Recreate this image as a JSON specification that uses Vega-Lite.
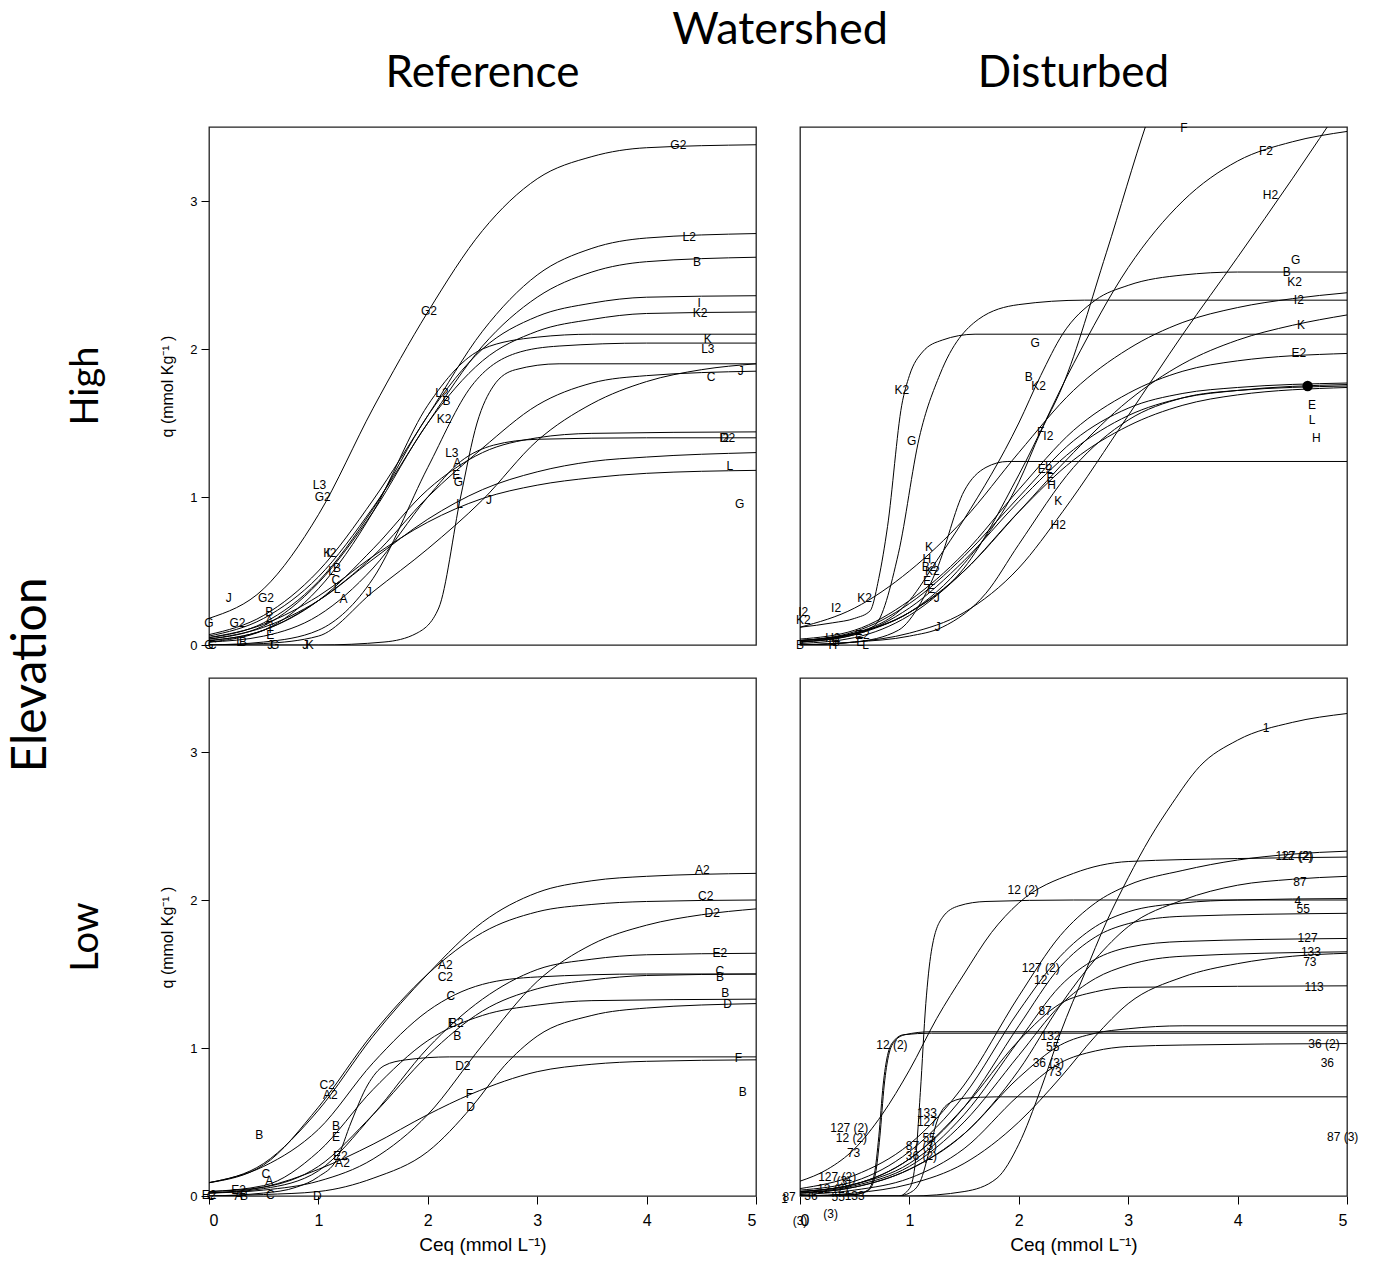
{
"$schema": "https://vega.github.io/schema/vega-lite/v6.json",
"padding": {"left": 7, "top": 8, "right": 5, "bottom": 5},
"background": "white",
"bounds": "flush",
"data": {"values": [
{"r":"H","w":"R","c":"G2","x":0,"y":0.18},{"r":"H","w":"R","c":"G2","x":0.5,"y":0.38},{"r":"H","w":"R","c":"G2","x":1,"y":0.88},{"r":"H","w":"R","c":"G2","x":1.5,"y":1.6},{"r":"H","w":"R","c":"G2","x":2,"y":2.25},{"r":"H","w":"R","c":"G2","x":2.5,"y":2.8},{"r":"H","w":"R","c":"G2","x":3,"y":3.15},{"r":"H","w":"R","c":"G2","x":3.5,"y":3.3},{"r":"H","w":"R","c":"G2","x":4,"y":3.36},{"r":"H","w":"R","c":"G2","x":5,"y":3.38},
{"r":"H","w":"R","c":"L2","x":0,"y":0.07},{"r":"H","w":"R","c":"L2","x":0.5,"y":0.2},{"r":"H","w":"R","c":"L2","x":1,"y":0.5},{"r":"H","w":"R","c":"L2","x":1.5,"y":0.98},{"r":"H","w":"R","c":"L2","x":2,"y":1.55},{"r":"H","w":"R","c":"L2","x":2.5,"y":2.12},{"r":"H","w":"R","c":"L2","x":3,"y":2.5},{"r":"H","w":"R","c":"L2","x":3.5,"y":2.68},{"r":"H","w":"R","c":"L2","x":4,"y":2.75},{"r":"H","w":"R","c":"L2","x":5,"y":2.78},
{"r":"H","w":"R","c":"B","x":0,"y":0.06},{"r":"H","w":"R","c":"B","x":0.5,"y":0.18},{"r":"H","w":"R","c":"B","x":1,"y":0.46},{"r":"H","w":"R","c":"B","x":1.5,"y":0.93},{"r":"H","w":"R","c":"B","x":2,"y":1.5},{"r":"H","w":"R","c":"B","x":2.5,"y":2.02},{"r":"H","w":"R","c":"B","x":3,"y":2.35},{"r":"H","w":"R","c":"B","x":3.5,"y":2.52},{"r":"H","w":"R","c":"B","x":4,"y":2.59},{"r":"H","w":"R","c":"B","x":5,"y":2.62},
{"r":"H","w":"R","c":"I","x":0,"y":0.05},{"r":"H","w":"R","c":"I","x":0.5,"y":0.15},{"r":"H","w":"R","c":"I","x":1,"y":0.43},{"r":"H","w":"R","c":"I","x":1.5,"y":0.92},{"r":"H","w":"R","c":"I","x":2,"y":1.55},{"r":"H","w":"R","c":"I","x":2.5,"y":2.0},{"r":"H","w":"R","c":"I","x":3,"y":2.22},{"r":"H","w":"R","c":"I","x":3.5,"y":2.31},{"r":"H","w":"R","c":"I","x":4,"y":2.35},{"r":"H","w":"R","c":"I","x":5,"y":2.36},
{"r":"H","w":"R","c":"K2","x":0,"y":0.04},{"r":"H","w":"R","c":"K2","x":0.5,"y":0.13},{"r":"H","w":"R","c":"K2","x":1,"y":0.42},{"r":"H","w":"R","c":"K2","x":1.5,"y":0.9},{"r":"H","w":"R","c":"K2","x":2,"y":1.5},{"r":"H","w":"R","c":"K2","x":2.5,"y":1.92},{"r":"H","w":"R","c":"K2","x":3,"y":2.12},{"r":"H","w":"R","c":"K2","x":3.5,"y":2.2},{"r":"H","w":"R","c":"K2","x":4,"y":2.24},{"r":"H","w":"R","c":"K2","x":5,"y":2.25},
{"r":"H","w":"R","c":"K","x":0,"y":0.02},{"r":"H","w":"R","c":"K","x":0.5,"y":0.1},{"r":"H","w":"R","c":"K","x":1,"y":0.38},{"r":"H","w":"R","c":"K","x":1.5,"y":0.9},{"r":"H","w":"R","c":"K","x":2,"y":1.62},{"r":"H","w":"R","c":"K","x":2.5,"y":2.0},{"r":"H","w":"R","c":"K","x":3,"y":2.08},{"r":"H","w":"R","c":"K","x":3.5,"y":2.1},{"r":"H","w":"R","c":"K","x":5,"y":2.1},
{"r":"H","w":"R","c":"L3","x":0,"y":0},{"r":"H","w":"R","c":"L3","x":0.5,"y":0.02},{"r":"H","w":"R","c":"L3","x":1,"y":0.1},{"r":"H","w":"R","c":"L3","x":1.5,"y":0.45},{"r":"H","w":"R","c":"L3","x":2,"y":1.2},{"r":"H","w":"R","c":"L3","x":2.4,"y":1.75},{"r":"H","w":"R","c":"L3","x":2.8,"y":1.97},{"r":"H","w":"R","c":"L3","x":3.2,"y":2.02},{"r":"H","w":"R","c":"L3","x":4,"y":2.04},{"r":"H","w":"R","c":"L3","x":5,"y":2.04},
{"r":"H","w":"R","c":"S1","x":0,"y":0},{"r":"H","w":"R","c":"S1","x":1,"y":0},{"r":"H","w":"R","c":"S1","x":1.6,"y":0.02},{"r":"H","w":"R","c":"S1","x":1.9,"y":0.08},{"r":"H","w":"R","c":"S1","x":2.1,"y":0.25},{"r":"H","w":"R","c":"S1","x":2.3,"y":1.0},{"r":"H","w":"R","c":"S1","x":2.45,"y":1.5},{"r":"H","w":"R","c":"S1","x":2.6,"y":1.75},{"r":"H","w":"R","c":"S1","x":2.8,"y":1.86},{"r":"H","w":"R","c":"S1","x":3.2,"y":1.9},{"r":"H","w":"R","c":"S1","x":5,"y":1.9},
{"r":"H","w":"R","c":"J","x":0,"y":0},{"r":"H","w":"R","c":"J","x":0.5,"y":0.01},{"r":"H","w":"R","c":"J","x":1,"y":0.06},{"r":"H","w":"R","c":"J","x":1.5,"y":0.36},{"r":"H","w":"R","c":"J","x":2,"y":0.65},{"r":"H","w":"R","c":"J","x":2.5,"y":0.98},{"r":"H","w":"R","c":"J","x":3,"y":1.38},{"r":"H","w":"R","c":"J","x":3.5,"y":1.63},{"r":"H","w":"R","c":"J","x":4,"y":1.78},{"r":"H","w":"R","c":"J","x":4.5,"y":1.86},{"r":"H","w":"R","c":"J","x":5,"y":1.9},
{"r":"H","w":"R","c":"C","x":0,"y":0.03},{"r":"H","w":"R","c":"C","x":0.5,"y":0.1},{"r":"H","w":"R","c":"C","x":1,"y":0.3},{"r":"H","w":"R","c":"C","x":1.5,"y":0.6},{"r":"H","w":"R","c":"C","x":2,"y":1.0},{"r":"H","w":"R","c":"C","x":2.5,"y":1.33},{"r":"H","w":"R","c":"C","x":3,"y":1.62},{"r":"H","w":"R","c":"C","x":3.5,"y":1.77},{"r":"H","w":"R","c":"C","x":4,"y":1.82},{"r":"H","w":"R","c":"C","x":5,"y":1.85},
{"r":"H","w":"R","c":"A","x":0,"y":0.02},{"r":"H","w":"R","c":"A","x":0.5,"y":0.06},{"r":"H","w":"R","c":"A","x":1,"y":0.2},{"r":"H","w":"R","c":"A","x":1.5,"y":0.52},{"r":"H","w":"R","c":"A","x":2,"y":1.0},{"r":"H","w":"R","c":"A","x":2.3,"y":1.24},{"r":"H","w":"R","c":"A","x":2.6,"y":1.35},{"r":"H","w":"R","c":"A","x":3,"y":1.39},{"r":"H","w":"R","c":"A","x":4,"y":1.4},{"r":"H","w":"R","c":"A","x":5,"y":1.4},
{"r":"H","w":"R","c":"I2","x":0,"y":0.03},{"r":"H","w":"R","c":"I2","x":0.5,"y":0.1},{"r":"H","w":"R","c":"I2","x":1,"y":0.3},{"r":"H","w":"R","c":"I2","x":1.5,"y":0.65},{"r":"H","w":"R","c":"I2","x":2,"y":1.05},{"r":"H","w":"R","c":"I2","x":2.5,"y":1.3},{"r":"H","w":"R","c":"I2","x":3,"y":1.4},{"r":"H","w":"R","c":"I2","x":3.5,"y":1.43},{"r":"H","w":"R","c":"I2","x":5,"y":1.44},
{"r":"H","w":"R","c":"P","x":0,"y":0.04},{"r":"H","w":"R","c":"P","x":0.5,"y":0.12},{"r":"H","w":"R","c":"P","x":1,"y":0.3},{"r":"H","w":"R","c":"P","x":1.5,"y":0.58},{"r":"H","w":"R","c":"P","x":2,"y":0.85},{"r":"H","w":"R","c":"P","x":2.5,"y":1.05},{"r":"H","w":"R","c":"P","x":3,"y":1.17},{"r":"H","w":"R","c":"P","x":3.5,"y":1.24},{"r":"H","w":"R","c":"P","x":4,"y":1.27},{"r":"H","w":"R","c":"P","x":5,"y":1.3},
{"r":"H","w":"R","c":"L","x":0,"y":0.05},{"r":"H","w":"R","c":"L","x":0.5,"y":0.14},{"r":"H","w":"R","c":"L","x":1,"y":0.33},{"r":"H","w":"R","c":"L","x":1.5,"y":0.6},{"r":"H","w":"R","c":"L","x":2,"y":0.83},{"r":"H","w":"R","c":"L","x":2.5,"y":0.99},{"r":"H","w":"R","c":"L","x":3,"y":1.08},{"r":"H","w":"R","c":"L","x":3.5,"y":1.13},{"r":"H","w":"R","c":"L","x":4,"y":1.16},{"r":"H","w":"R","c":"L","x":5,"y":1.18},

{"r":"H","w":"D","c":"F","x":0,"y":0.03},{"r":"H","w":"D","c":"F","x":0.5,"y":0.08},{"r":"H","w":"D","c":"F","x":1,"y":0.22},{"r":"H","w":"D","c":"F","x":1.5,"y":0.55},{"r":"H","w":"D","c":"F","x":2,"y":1.1},{"r":"H","w":"D","c":"F","x":2.2,"y":1.44},{"r":"H","w":"D","c":"F","x":2.4,"y":1.75},{"r":"H","w":"D","c":"F","x":2.8,"y":2.65},{"r":"H","w":"D","c":"F","x":3.17,"y":3.53},{"r":"H","w":"D","c":"F","x":3.5,"y":4.2},{"r":"H","w":"D","c":"F","x":4,"y":5.0},
{"r":"H","w":"D","c":"F2","x":0,"y":0.03},{"r":"H","w":"D","c":"F2","x":0.5,"y":0.08},{"r":"H","w":"D","c":"F2","x":1,"y":0.22},{"r":"H","w":"D","c":"F2","x":1.5,"y":0.52},{"r":"H","w":"D","c":"F2","x":2,"y":1.15},{"r":"H","w":"D","c":"F2","x":2.5,"y":1.9},{"r":"H","w":"D","c":"F2","x":3,"y":2.55},{"r":"H","w":"D","c":"F2","x":3.5,"y":3.0},{"r":"H","w":"D","c":"F2","x":4,"y":3.27},{"r":"H","w":"D","c":"F2","x":4.5,"y":3.4},{"r":"H","w":"D","c":"F2","x":5,"y":3.47},
{"r":"H","w":"D","c":"H2","x":0,"y":0},{"r":"H","w":"D","c":"H2","x":0.5,"y":0.02},{"r":"H","w":"D","c":"H2","x":1,"y":0.08},{"r":"H","w":"D","c":"H2","x":1.5,"y":0.22},{"r":"H","w":"D","c":"H2","x":2,"y":0.52},{"r":"H","w":"D","c":"H2","x":2.4,"y":0.9},{"r":"H","w":"D","c":"H2","x":3,"y":1.55},{"r":"H","w":"D","c":"H2","x":3.5,"y":2.1},{"r":"H","w":"D","c":"H2","x":4,"y":2.62},{"r":"H","w":"D","c":"H2","x":4.5,"y":3.15},{"r":"H","w":"D","c":"H2","x":5,"y":3.7},
{"r":"H","w":"D","c":"K2","x":0,"y":0.12},{"r":"H","w":"D","c":"K2","x":0.3,"y":0.15},{"r":"H","w":"D","c":"K2","x":0.5,"y":0.18},{"r":"H","w":"D","c":"K2","x":0.64,"y":0.23},{"r":"H","w":"D","c":"K2","x":0.72,"y":0.45},{"r":"H","w":"D","c":"K2","x":0.8,"y":0.8},{"r":"H","w":"D","c":"K2","x":0.93,"y":1.62},{"r":"H","w":"D","c":"K2","x":1.0,"y":1.82},{"r":"H","w":"D","c":"K2","x":1.12,"y":1.98},{"r":"H","w":"D","c":"K2","x":1.3,"y":2.06},{"r":"H","w":"D","c":"K2","x":1.6,"y":2.1},{"r":"H","w":"D","c":"K2","x":5,"y":2.1},
{"r":"H","w":"D","c":"G","x":0,"y":0.03},{"r":"H","w":"D","c":"G","x":0.4,"y":0.06},{"r":"H","w":"D","c":"G","x":0.68,"y":0.13},{"r":"H","w":"D","c":"G","x":0.9,"y":0.62},{"r":"H","w":"D","c":"G","x":1.09,"y":1.4},{"r":"H","w":"D","c":"G","x":1.28,"y":1.83},{"r":"H","w":"D","c":"G","x":1.63,"y":2.2},{"r":"H","w":"D","c":"G","x":2.0,"y":2.3},{"r":"H","w":"D","c":"G","x":2.6,"y":2.33},{"r":"H","w":"D","c":"G","x":5,"y":2.33},
{"r":"H","w":"D","c":"B","x":0,"y":0.02},{"r":"H","w":"D","c":"B","x":0.5,"y":0.08},{"r":"H","w":"D","c":"B","x":1,"y":0.3},{"r":"H","w":"D","c":"B","x":1.25,"y":0.57},{"r":"H","w":"D","c":"B","x":1.5,"y":0.85},{"r":"H","w":"D","c":"B","x":2,"y":1.5},{"r":"H","w":"D","c":"B","x":2.2,"y":1.82},{"r":"H","w":"D","c":"B","x":2.4,"y":2.1},{"r":"H","w":"D","c":"B","x":2.7,"y":2.33},{"r":"H","w":"D","c":"B","x":3,"y":2.43},{"r":"H","w":"D","c":"B","x":3.5,"y":2.5},{"r":"H","w":"D","c":"B","x":4,"y":2.52},{"r":"H","w":"D","c":"B","x":5,"y":2.52},
{"r":"H","w":"D","c":"I2","x":0,"y":0.12},{"r":"H","w":"D","c":"I2","x":0.5,"y":0.25},{"r":"H","w":"D","c":"I2","x":1,"y":0.5},{"r":"H","w":"D","c":"I2","x":1.5,"y":0.85},{"r":"H","w":"D","c":"I2","x":2,"y":1.3},{"r":"H","w":"D","c":"I2","x":2.5,"y":1.72},{"r":"H","w":"D","c":"I2","x":3,"y":2.0},{"r":"H","w":"D","c":"I2","x":3.5,"y":2.18},{"r":"H","w":"D","c":"I2","x":4,"y":2.28},{"r":"H","w":"D","c":"I2","x":4.5,"y":2.34},{"r":"H","w":"D","c":"I2","x":5,"y":2.38},
{"r":"H","w":"D","c":"K","x":0,"y":0.02},{"r":"H","w":"D","c":"K","x":0.5,"y":0.07},{"r":"H","w":"D","c":"K","x":1,"y":0.22},{"r":"H","w":"D","c":"K","x":1.5,"y":0.5},{"r":"H","w":"D","c":"K","x":2,"y":0.9},{"r":"H","w":"D","c":"K","x":2.5,"y":1.3},{"r":"H","w":"D","c":"K","x":3,"y":1.65},{"r":"H","w":"D","c":"K","x":3.5,"y":1.9},{"r":"H","w":"D","c":"K","x":4,"y":2.06},{"r":"H","w":"D","c":"K","x":4.5,"y":2.16},{"r":"H","w":"D","c":"K","x":5,"y":2.23},
{"r":"H","w":"D","c":"E2","x":0,"y":0.04},{"r":"H","w":"D","c":"E2","x":0.5,"y":0.1},{"r":"H","w":"D","c":"E2","x":1,"y":0.3},{"r":"H","w":"D","c":"E2","x":1.5,"y":0.62},{"r":"H","w":"D","c":"E2","x":2,"y":1.05},{"r":"H","w":"D","c":"E2","x":2.5,"y":1.45},{"r":"H","w":"D","c":"E2","x":3,"y":1.7},{"r":"H","w":"D","c":"E2","x":3.5,"y":1.85},{"r":"H","w":"D","c":"E2","x":4,"y":1.92},{"r":"H","w":"D","c":"E2","x":5,"y":1.97},
{"r":"H","w":"D","c":"E","x":0,"y":0.03},{"r":"H","w":"D","c":"E","x":0.5,"y":0.09},{"r":"H","w":"D","c":"E","x":1,"y":0.28},{"r":"H","w":"D","c":"E","x":1.5,"y":0.6},{"r":"H","w":"D","c":"E","x":2,"y":1.0},{"r":"H","w":"D","c":"E","x":2.5,"y":1.38},{"r":"H","w":"D","c":"E","x":3,"y":1.6},{"r":"H","w":"D","c":"E","x":3.5,"y":1.7},{"r":"H","w":"D","c":"E","x":4,"y":1.74},{"r":"H","w":"D","c":"E","x":5,"y":1.77},
{"r":"H","w":"D","c":"L","x":0,"y":0.02},{"r":"H","w":"D","c":"L","x":0.5,"y":0.07},{"r":"H","w":"D","c":"L","x":1,"y":0.25},{"r":"H","w":"D","c":"L","x":1.5,"y":0.57},{"r":"H","w":"D","c":"L","x":2,"y":0.97},{"r":"H","w":"D","c":"L","x":2.5,"y":1.32},{"r":"H","w":"D","c":"L","x":3,"y":1.55},{"r":"H","w":"D","c":"L","x":3.5,"y":1.67},{"r":"H","w":"D","c":"L","x":4,"y":1.72},{"r":"H","w":"D","c":"L","x":5,"y":1.76},
{"r":"H","w":"D","c":"H","x":0,"y":0.01},{"r":"H","w":"D","c":"H","x":0.5,"y":0.05},{"r":"H","w":"D","c":"H","x":1,"y":0.2},{"r":"H","w":"D","c":"H","x":1.5,"y":0.5},{"r":"H","w":"D","c":"H","x":2,"y":0.9},{"r":"H","w":"D","c":"H","x":2.5,"y":1.25},{"r":"H","w":"D","c":"H","x":3,"y":1.48},{"r":"H","w":"D","c":"H","x":3.5,"y":1.62},{"r":"H","w":"D","c":"H","x":4,"y":1.69},{"r":"H","w":"D","c":"H","x":5,"y":1.74},
{"r":"H","w":"D","c":"J","x":0,"y":0},{"r":"H","w":"D","c":"J","x":0.5,"y":0.02},{"r":"H","w":"D","c":"J","x":1,"y":0.06},{"r":"H","w":"D","c":"J","x":1.3,"y":0.12},{"r":"H","w":"D","c":"J","x":1.7,"y":0.35},{"r":"H","w":"D","c":"J","x":2,"y":0.68},{"r":"H","w":"D","c":"J","x":2.5,"y":1.2},{"r":"H","w":"D","c":"J","x":3,"y":1.52},{"r":"H","w":"D","c":"J","x":3.5,"y":1.67},{"r":"H","w":"D","c":"J","x":4,"y":1.72},{"r":"H","w":"D","c":"J","x":5,"y":1.75},
{"r":"H","w":"D","c":"P","x":0,"y":0},{"r":"H","w":"D","c":"P","x":0.5,"y":0.02},{"r":"H","w":"D","c":"P","x":0.9,"y":0.1},{"r":"H","w":"D","c":"P","x":1.1,"y":0.28},{"r":"H","w":"D","c":"P","x":1.25,"y":0.51},{"r":"H","w":"D","c":"P","x":1.5,"y":1.04},{"r":"H","w":"D","c":"P","x":1.7,"y":1.2},{"r":"H","w":"D","c":"P","x":1.9,"y":1.24},{"r":"H","w":"D","c":"P","x":5,"y":1.24},

{"r":"L","w":"R","c":"A2","x":0,"y":0.09},{"r":"L","w":"R","c":"A2","x":0.5,"y":0.22},{"r":"L","w":"R","c":"A2","x":1,"y":0.58},{"r":"L","w":"R","c":"A2","x":1.5,"y":1.08},{"r":"L","w":"R","c":"A2","x":2,"y":1.5},{"r":"L","w":"R","c":"A2","x":2.5,"y":1.85},{"r":"L","w":"R","c":"A2","x":3,"y":2.05},{"r":"L","w":"R","c":"A2","x":3.5,"y":2.13},{"r":"L","w":"R","c":"A2","x":4,"y":2.16},{"r":"L","w":"R","c":"A2","x":5,"y":2.18},
{"r":"L","w":"R","c":"C2","x":0,"y":0.09},{"r":"L","w":"R","c":"C2","x":0.5,"y":0.21},{"r":"L","w":"R","c":"C2","x":1,"y":0.6},{"r":"L","w":"R","c":"C2","x":1.5,"y":1.1},{"r":"L","w":"R","c":"C2","x":2,"y":1.5},{"r":"L","w":"R","c":"C2","x":2.5,"y":1.78},{"r":"L","w":"R","c":"C2","x":3,"y":1.92},{"r":"L","w":"R","c":"C2","x":3.5,"y":1.97},{"r":"L","w":"R","c":"C2","x":4,"y":1.99},{"r":"L","w":"R","c":"C2","x":5,"y":2.0},
{"r":"L","w":"R","c":"D2","x":0,"y":0.02},{"r":"L","w":"R","c":"D2","x":0.5,"y":0.04},{"r":"L","w":"R","c":"D2","x":1,"y":0.1},{"r":"L","w":"R","c":"D2","x":1.5,"y":0.25},{"r":"L","w":"R","c":"D2","x":2,"y":0.55},{"r":"L","w":"R","c":"D2","x":2.5,"y":1.02},{"r":"L","w":"R","c":"D2","x":3,"y":1.45},{"r":"L","w":"R","c":"D2","x":3.5,"y":1.7},{"r":"L","w":"R","c":"D2","x":4,"y":1.83},{"r":"L","w":"R","c":"D2","x":4.5,"y":1.9},{"r":"L","w":"R","c":"D2","x":5,"y":1.94},
{"r":"L","w":"R","c":"E2","x":0,"y":0.02},{"r":"L","w":"R","c":"E2","x":0.5,"y":0.05},{"r":"L","w":"R","c":"E2","x":1,"y":0.17},{"r":"L","w":"R","c":"E2","x":1.5,"y":0.55},{"r":"L","w":"R","c":"E2","x":2,"y":1.0},{"r":"L","w":"R","c":"E2","x":2.5,"y":1.33},{"r":"L","w":"R","c":"E2","x":3,"y":1.53},{"r":"L","w":"R","c":"E2","x":3.5,"y":1.6},{"r":"L","w":"R","c":"E2","x":4,"y":1.63},{"r":"L","w":"R","c":"E2","x":5,"y":1.64},
{"r":"L","w":"R","c":"C","x":0,"y":0.09},{"r":"L","w":"R","c":"C","x":0.5,"y":0.2},{"r":"L","w":"R","c":"C","x":1,"y":0.45},{"r":"L","w":"R","c":"C","x":1.5,"y":0.9},{"r":"L","w":"R","c":"C","x":2,"y":1.25},{"r":"L","w":"R","c":"C","x":2.5,"y":1.43},{"r":"L","w":"R","c":"C","x":3,"y":1.48},{"r":"L","w":"R","c":"C","x":4,"y":1.5},{"r":"L","w":"R","c":"C","x":5,"y":1.5},
{"r":"L","w":"R","c":"B","x":0,"y":0.03},{"r":"L","w":"R","c":"B","x":0.5,"y":0.06},{"r":"L","w":"R","c":"B","x":1,"y":0.2},{"r":"L","w":"R","c":"B","x":1.5,"y":0.55},{"r":"L","w":"R","c":"B","x":2,"y":0.95},{"r":"L","w":"R","c":"B","x":2.5,"y":1.25},{"r":"L","w":"R","c":"B","x":3,"y":1.4},{"r":"L","w":"R","c":"B","x":3.5,"y":1.46},{"r":"L","w":"R","c":"B","x":4,"y":1.49},{"r":"L","w":"R","c":"B","x":5,"y":1.5},
{"r":"L","w":"R","c":"B3","x":0,"y":0.03},{"r":"L","w":"R","c":"B3","x":0.5,"y":0.07},{"r":"L","w":"R","c":"B3","x":1,"y":0.3},{"r":"L","w":"R","c":"B3","x":1.5,"y":0.72},{"r":"L","w":"R","c":"B3","x":2,"y":1.05},{"r":"L","w":"R","c":"B3","x":2.5,"y":1.22},{"r":"L","w":"R","c":"B3","x":3,"y":1.29},{"r":"L","w":"R","c":"B3","x":3.5,"y":1.32},{"r":"L","w":"R","c":"B3","x":5,"y":1.33},
{"r":"L","w":"R","c":"D","x":0,"y":0},{"r":"L","w":"R","c":"D","x":0.5,"y":0.01},{"r":"L","w":"R","c":"D","x":1,"y":0.03},{"r":"L","w":"R","c":"D","x":1.5,"y":0.12},{"r":"L","w":"R","c":"D","x":2,"y":0.3},{"r":"L","w":"R","c":"D","x":2.4,"y":0.6},{"r":"L","w":"R","c":"D","x":2.7,"y":0.88},{"r":"L","w":"R","c":"D","x":3,"y":1.08},{"r":"L","w":"R","c":"D","x":3.5,"y":1.22},{"r":"L","w":"R","c":"D","x":4,"y":1.27},{"r":"L","w":"R","c":"D","x":5,"y":1.3},
{"r":"L","w":"R","c":"F1","x":0,"y":0},{"r":"L","w":"R","c":"F1","x":0.5,"y":0.02},{"r":"L","w":"R","c":"F1","x":0.8,"y":0.06},{"r":"L","w":"R","c":"F1","x":1.0,"y":0.13},{"r":"L","w":"R","c":"F1","x":1.17,"y":0.25},{"r":"L","w":"R","c":"F1","x":1.3,"y":0.5},{"r":"L","w":"R","c":"F1","x":1.45,"y":0.75},{"r":"L","w":"R","c":"F1","x":1.6,"y":0.88},{"r":"L","w":"R","c":"F1","x":1.8,"y":0.92},{"r":"L","w":"R","c":"F1","x":2.2,"y":0.94},{"r":"L","w":"R","c":"F1","x":5,"y":0.94},
{"r":"L","w":"R","c":"F","x":0,"y":0.02},{"r":"L","w":"R","c":"F","x":0.5,"y":0.06},{"r":"L","w":"R","c":"F","x":1,"y":0.18},{"r":"L","w":"R","c":"F","x":1.5,"y":0.35},{"r":"L","w":"R","c":"F","x":2,"y":0.55},{"r":"L","w":"R","c":"F","x":2.4,"y":0.69},{"r":"L","w":"R","c":"F","x":3,"y":0.84},{"r":"L","w":"R","c":"F","x":3.5,"y":0.89},{"r":"L","w":"R","c":"F","x":4,"y":0.91},{"r":"L","w":"R","c":"F","x":5,"y":0.92},

{"r":"L","w":"D","c":"1","x":0,"y":0},{"r":"L","w":"D","c":"1","x":1,"y":0},{"r":"L","w":"D","c":"1","x":1.5,"y":0.03},{"r":"L","w":"D","c":"1","x":1.8,"y":0.12},{"r":"L","w":"D","c":"1","x":2.0,"y":0.35},{"r":"L","w":"D","c":"1","x":2.2,"y":0.72},{"r":"L","w":"D","c":"1","x":2.38,"y":1.1},{"r":"L","w":"D","c":"1","x":2.6,"y":1.5},{"r":"L","w":"D","c":"1","x":2.8,"y":1.85},{"r":"L","w":"D","c":"1","x":3.0,"y":2.15},{"r":"L","w":"D","c":"1","x":3.2,"y":2.42},{"r":"L","w":"D","c":"1","x":3.4,"y":2.65},{"r":"L","w":"D","c":"1","x":3.65,"y":2.9},{"r":"L","w":"D","c":"1","x":4.0,"y":3.08},{"r":"L","w":"D","c":"1","x":4.5,"y":3.2},{"r":"L","w":"D","c":"1","x":5,"y":3.26},
{"r":"L","w":"D","c":"S2","x":0,"y":0},{"r":"L","w":"D","c":"S2","x":0.9,"y":0},{"r":"L","w":"D","c":"S2","x":1.0,"y":0.05},{"r":"L","w":"D","c":"S2","x":1.05,"y":0.2},{"r":"L","w":"D","c":"S2","x":1.1,"y":0.7},{"r":"L","w":"D","c":"S2","x":1.15,"y":1.3},{"r":"L","w":"D","c":"S2","x":1.2,"y":1.65},{"r":"L","w":"D","c":"S2","x":1.3,"y":1.88},{"r":"L","w":"D","c":"S2","x":1.45,"y":1.96},{"r":"L","w":"D","c":"S2","x":1.7,"y":1.99},{"r":"L","w":"D","c":"S2","x":2.5,"y":2.0},{"r":"L","w":"D","c":"S2","x":5,"y":2.0},
{"r":"L","w":"D","c":"S3","x":0,"y":0},{"r":"L","w":"D","c":"S3","x":0.5,"y":0.01},{"r":"L","w":"D","c":"S3","x":0.62,"y":0.04},{"r":"L","w":"D","c":"S3","x":0.68,"y":0.15},{"r":"L","w":"D","c":"S3","x":0.72,"y":0.4},{"r":"L","w":"D","c":"S3","x":0.76,"y":0.75},{"r":"L","w":"D","c":"S3","x":0.8,"y":0.95},{"r":"L","w":"D","c":"S3","x":0.86,"y":1.05},{"r":"L","w":"D","c":"S3","x":0.95,"y":1.09},{"r":"L","w":"D","c":"S3","x":1.2,"y":1.1},{"r":"L","w":"D","c":"S3","x":5,"y":1.1},
{"r":"L","w":"D","c":"S3b","x":0,"y":0},{"r":"L","w":"D","c":"S3b","x":0.5,"y":0.01},{"r":"L","w":"D","c":"S3b","x":0.63,"y":0.04},{"r":"L","w":"D","c":"S3b","x":0.69,"y":0.15},{"r":"L","w":"D","c":"S3b","x":0.73,"y":0.4},{"r":"L","w":"D","c":"S3b","x":0.77,"y":0.75},{"r":"L","w":"D","c":"S3b","x":0.81,"y":0.95},{"r":"L","w":"D","c":"S3b","x":0.87,"y":1.05},{"r":"L","w":"D","c":"S3b","x":0.96,"y":1.09},{"r":"L","w":"D","c":"S3b","x":1.2,"y":1.11},{"r":"L","w":"D","c":"S3b","x":5,"y":1.11},
{"r":"L","w":"D","c":"S4","x":0,"y":0},{"r":"L","w":"D","c":"S4","x":0.9,"y":0},{"r":"L","w":"D","c":"S4","x":1.0,"y":0.02},{"r":"L","w":"D","c":"S4","x":1.1,"y":0.1},{"r":"L","w":"D","c":"S4","x":1.18,"y":0.3},{"r":"L","w":"D","c":"S4","x":1.25,"y":0.5},{"r":"L","w":"D","c":"S4","x":1.35,"y":0.62},{"r":"L","w":"D","c":"S4","x":1.5,"y":0.66},{"r":"L","w":"D","c":"S4","x":1.8,"y":0.67},{"r":"L","w":"D","c":"S4","x":5,"y":0.67},
{"r":"L","w":"D","c":"G12","x":0,"y":0.1},{"r":"L","w":"D","c":"G12","x":0.25,"y":0.18},{"r":"L","w":"D","c":"G12","x":0.5,"y":0.32},{"r":"L","w":"D","c":"G12","x":0.75,"y":0.55},{"r":"L","w":"D","c":"G12","x":1,"y":0.85},{"r":"L","w":"D","c":"G12","x":1.25,"y":1.2},{"r":"L","w":"D","c":"G12","x":1.5,"y":1.5},{"r":"L","w":"D","c":"G12","x":1.75,"y":1.78},{"r":"L","w":"D","c":"G12","x":2,"y":1.98},{"r":"L","w":"D","c":"G12","x":2.5,"y":2.18},{"r":"L","w":"D","c":"G12","x":3,"y":2.26},{"r":"L","w":"D","c":"G12","x":4,"y":2.28},{"r":"L","w":"D","c":"G12","x":5,"y":2.29},
{"r":"L","w":"D","c":"R233","x":0,"y":0.05},{"r":"L","w":"D","c":"R233","x":0.5,"y":0.14},{"r":"L","w":"D","c":"R233","x":1,"y":0.35},{"r":"L","w":"D","c":"R233","x":1.5,"y":0.75},{"r":"L","w":"D","c":"R233","x":2,"y":1.35},{"r":"L","w":"D","c":"R233","x":2.38,"y":1.76},{"r":"L","w":"D","c":"R233","x":2.7,"y":1.98},{"r":"L","w":"D","c":"R233","x":3,"y":2.1},{"r":"L","w":"D","c":"R233","x":3.5,"y":2.2},{"r":"L","w":"D","c":"R233","x":4,"y":2.27},{"r":"L","w":"D","c":"R233","x":4.5,"y":2.31},{"r":"L","w":"D","c":"R233","x":5,"y":2.33},
{"r":"L","w":"D","c":"R216","x":0,"y":0.02},{"r":"L","w":"D","c":"R216","x":0.5,"y":0.06},{"r":"L","w":"D","c":"R216","x":1,"y":0.18},{"r":"L","w":"D","c":"R216","x":1.5,"y":0.42},{"r":"L","w":"D","c":"R216","x":2,"y":0.85},{"r":"L","w":"D","c":"R216","x":2.38,"y":1.29},{"r":"L","w":"D","c":"R216","x":2.7,"y":1.6},{"r":"L","w":"D","c":"R216","x":3,"y":1.82},{"r":"L","w":"D","c":"R216","x":3.5,"y":2.0},{"r":"L","w":"D","c":"R216","x":4,"y":2.1},{"r":"L","w":"D","c":"R216","x":4.5,"y":2.14},{"r":"L","w":"D","c":"R216","x":5,"y":2.16},
{"r":"L","w":"D","c":"R201","x":0,"y":0.04},{"r":"L","w":"D","c":"R201","x":0.5,"y":0.1},{"r":"L","w":"D","c":"R201","x":1,"y":0.3},{"r":"L","w":"D","c":"R201","x":1.5,"y":0.68},{"r":"L","w":"D","c":"R201","x":2,"y":1.25},{"r":"L","w":"D","c":"R201","x":2.38,"y":1.62},{"r":"L","w":"D","c":"R201","x":2.7,"y":1.82},{"r":"L","w":"D","c":"R201","x":3,"y":1.92},{"r":"L","w":"D","c":"R201","x":3.5,"y":1.98},{"r":"L","w":"D","c":"R201","x":4,"y":2.0},{"r":"L","w":"D","c":"R201","x":5,"y":2.01},
{"r":"L","w":"D","c":"R191","x":0,"y":0.03},{"r":"L","w":"D","c":"R191","x":0.5,"y":0.08},{"r":"L","w":"D","c":"R191","x":1,"y":0.25},{"r":"L","w":"D","c":"R191","x":1.5,"y":0.6},{"r":"L","w":"D","c":"R191","x":2,"y":1.15},{"r":"L","w":"D","c":"R191","x":2.38,"y":1.55},{"r":"L","w":"D","c":"R191","x":2.7,"y":1.75},{"r":"L","w":"D","c":"R191","x":3,"y":1.84},{"r":"L","w":"D","c":"R191","x":3.5,"y":1.89},{"r":"L","w":"D","c":"R191","x":5,"y":1.91},
{"r":"L","w":"D","c":"R174","x":0,"y":0.03},{"r":"L","w":"D","c":"R174","x":0.5,"y":0.08},{"r":"L","w":"D","c":"R174","x":1,"y":0.22},{"r":"L","w":"D","c":"R174","x":1.5,"y":0.55},{"r":"L","w":"D","c":"R174","x":2,"y":1.05},{"r":"L","w":"D","c":"R174","x":2.38,"y":1.42},{"r":"L","w":"D","c":"R174","x":2.7,"y":1.6},{"r":"L","w":"D","c":"R174","x":3,"y":1.68},{"r":"L","w":"D","c":"R174","x":3.5,"y":1.72},{"r":"L","w":"D","c":"R174","x":5,"y":1.74},
{"r":"L","w":"D","c":"R165","x":0,"y":0.02},{"r":"L","w":"D","c":"R165","x":0.5,"y":0.07},{"r":"L","w":"D","c":"R165","x":1,"y":0.2},{"r":"L","w":"D","c":"R165","x":1.5,"y":0.5},{"r":"L","w":"D","c":"R165","x":2,"y":0.95},{"r":"L","w":"D","c":"R165","x":2.38,"y":1.29},{"r":"L","w":"D","c":"R165","x":2.7,"y":1.47},{"r":"L","w":"D","c":"R165","x":3,"y":1.56},{"r":"L","w":"D","c":"R165","x":3.5,"y":1.62},{"r":"L","w":"D","c":"R165","x":5,"y":1.65},
{"r":"L","w":"D","c":"R164","x":0,"y":0},{"r":"L","w":"D","c":"R164","x":0.5,"y":0.02},{"r":"L","w":"D","c":"R164","x":1,"y":0.08},{"r":"L","w":"D","c":"R164","x":1.5,"y":0.22},{"r":"L","w":"D","c":"R164","x":2,"y":0.5},{"r":"L","w":"D","c":"R164","x":2.38,"y":0.8},{"r":"L","w":"D","c":"R164","x":2.7,"y":1.08},{"r":"L","w":"D","c":"R164","x":3,"y":1.3},{"r":"L","w":"D","c":"R164","x":3.5,"y":1.48},{"r":"L","w":"D","c":"R164","x":4,"y":1.57},{"r":"L","w":"D","c":"R164","x":4.5,"y":1.62},{"r":"L","w":"D","c":"R164","x":5,"y":1.64},
{"r":"L","w":"D","c":"R142","x":0,"y":0.03},{"r":"L","w":"D","c":"R142","x":0.5,"y":0.08},{"r":"L","w":"D","c":"R142","x":1,"y":0.25},{"r":"L","w":"D","c":"R142","x":1.5,"y":0.6},{"r":"L","w":"D","c":"R142","x":2,"y":1.05},{"r":"L","w":"D","c":"R142","x":2.38,"y":1.3},{"r":"L","w":"D","c":"R142","x":2.7,"y":1.38},{"r":"L","w":"D","c":"R142","x":3,"y":1.41},{"r":"L","w":"D","c":"R142","x":5,"y":1.42},
{"r":"L","w":"D","c":"R115","x":0,"y":0.02},{"r":"L","w":"D","c":"R115","x":0.5,"y":0.06},{"r":"L","w":"D","c":"R115","x":1,"y":0.18},{"r":"L","w":"D","c":"R115","x":1.5,"y":0.42},{"r":"L","w":"D","c":"R115","x":2,"y":0.8},{"r":"L","w":"D","c":"R115","x":2.38,"y":1.02},{"r":"L","w":"D","c":"R115","x":2.7,"y":1.1},{"r":"L","w":"D","c":"R115","x":3,"y":1.13},{"r":"L","w":"D","c":"R115","x":3.5,"y":1.15},{"r":"L","w":"D","c":"R115","x":5,"y":1.15},
{"r":"L","w":"D","c":"R103","x":0,"y":0.01},{"r":"L","w":"D","c":"R103","x":0.5,"y":0.04},{"r":"L","w":"D","c":"R103","x":1,"y":0.12},{"r":"L","w":"D","c":"R103","x":1.5,"y":0.32},{"r":"L","w":"D","c":"R103","x":2,"y":0.68},{"r":"L","w":"D","c":"R103","x":2.38,"y":0.9},{"r":"L","w":"D","c":"R103","x":2.7,"y":0.98},{"r":"L","w":"D","c":"R103","x":3,"y":1.01},{"r":"L","w":"D","c":"R103","x":3.5,"y":1.02},{"r":"L","w":"D","c":"R103","x":5,"y":1.03},

{"r":"H","w":"D","p":1,"x":4.64,"y":1.75},

{"r":"H","w":"R","t":"G2","x":4.29,"y":3.38},{"r":"H","w":"R","t":"L2","x":4.39,"y":2.76},{"r":"H","w":"R","t":"B","x":4.46,"y":2.59},{"r":"H","w":"R","t":"I","x":4.48,"y":2.31},{"r":"H","w":"R","t":"K2","x":4.49,"y":2.24},{"r":"H","w":"R","t":"K","x":4.56,"y":2.07},{"r":"H","w":"R","t":"L3","x":4.56,"y":2.0},{"r":"H","w":"R","t":"J","x":4.86,"y":1.85},{"r":"H","w":"R","t":"C","x":4.59,"y":1.81},{"r":"H","w":"R","t":"I2","x":4.71,"y":1.4},{"r":"H","w":"R","t":"D2","x":4.74,"y":1.4},{"r":"H","w":"R","t":"L","x":4.76,"y":1.21},{"r":"H","w":"R","t":"G","x":4.85,"y":0.95},
{"r":"H","w":"R","t":"G2","x":2.01,"y":2.26},{"r":"H","w":"R","t":"L2","x":2.13,"y":1.7},{"r":"H","w":"R","t":"B","x":2.17,"y":1.65},{"r":"H","w":"R","t":"K2","x":2.15,"y":1.53},{"r":"H","w":"R","t":"L3","x":2.22,"y":1.3},{"r":"H","w":"R","t":"A","x":2.27,"y":1.23},{"r":"H","w":"R","t":"E","x":2.26,"y":1.15},{"r":"H","w":"R","t":"G","x":2.28,"y":1.1},{"r":"H","w":"R","t":"L","x":2.29,"y":0.95},{"r":"H","w":"R","t":"J","x":2.56,"y":0.98},
{"r":"H","w":"R","t":"L3","x":1.01,"y":1.08},{"r":"H","w":"R","t":"G2","x":1.04,"y":1.0},{"r":"H","w":"R","t":"K","x":1.08,"y":0.62},{"r":"H","w":"R","t":"I2","x":1.12,"y":0.62},{"r":"H","w":"R","t":"L","x":1.12,"y":0.5},{"r":"H","w":"R","t":"B","x":1.17,"y":0.52},{"r":"H","w":"R","t":"C","x":1.16,"y":0.44},{"r":"H","w":"R","t":"L","x":1.17,"y":0.38},{"r":"H","w":"R","t":"A","x":1.23,"y":0.31},{"r":"H","w":"R","t":"J","x":1.46,"y":0.36},
{"r":"H","w":"R","t":"J","x":0.18,"y":0.32},{"r":"H","w":"R","t":"G2","x":0.52,"y":0.32},{"r":"H","w":"R","t":"G","x":0.0,"y":0.15},{"r":"H","w":"R","t":"G2","x":0.26,"y":0.15},{"r":"H","w":"R","t":"B","x":0.55,"y":0.22},{"r":"H","w":"R","t":"A","x":0.55,"y":0.16},{"r":"H","w":"R","t":"I","x":0.56,"y":0.11},{"r":"H","w":"R","t":"E","x":0.56,"y":0.07},
{"r":"H","w":"R","t":"G","x":0.0,"y":0.0},{"r":"H","w":"R","t":"C","x":0.03,"y":0.0},{"r":"H","w":"R","t":"L","x":0.28,"y":0.02},{"r":"H","w":"R","t":"B","x":0.31,"y":0.02},{"r":"H","w":"R","t":"J","x":0.56,"y":0.0},{"r":"H","w":"R","t":"G","x":0.6,"y":0.0},{"r":"H","w":"R","t":"J","x":0.88,"y":0.0},{"r":"H","w":"R","t":"K","x":0.92,"y":0.0},

{"r":"H","w":"D","t":"F","x":3.51,"y":3.49},{"r":"H","w":"D","t":"F2","x":4.26,"y":3.34},{"r":"H","w":"D","t":"H2","x":4.3,"y":3.04},{"r":"H","w":"D","t":"G","x":4.53,"y":2.6},{"r":"H","w":"D","t":"B","x":4.45,"y":2.52},{"r":"H","w":"D","t":"K2","x":4.52,"y":2.45},{"r":"H","w":"D","t":"I2","x":4.56,"y":2.33},{"r":"H","w":"D","t":"K","x":4.58,"y":2.16},{"r":"H","w":"D","t":"E2","x":4.56,"y":1.97},{"r":"H","w":"D","t":"E","x":4.68,"y":1.62},{"r":"H","w":"D","t":"L","x":4.68,"y":1.52},{"r":"H","w":"D","t":"H","x":4.72,"y":1.4},
{"r":"H","w":"D","t":"G","x":2.15,"y":2.04},{"r":"H","w":"D","t":"B","x":2.09,"y":1.81},{"r":"H","w":"D","t":"K2","x":2.18,"y":1.75},{"r":"H","w":"D","t":"F","x":2.2,"y":1.44},{"r":"H","w":"D","t":"I2","x":2.27,"y":1.41},{"r":"H","w":"D","t":"E2","x":2.24,"y":1.19},{"r":"H","w":"D","t":"L","x":2.27,"y":1.21},{"r":"H","w":"D","t":"E","x":2.29,"y":1.13},{"r":"H","w":"D","t":"H","x":2.3,"y":1.08},{"r":"H","w":"D","t":"K","x":2.36,"y":0.97},{"r":"H","w":"D","t":"H2","x":2.36,"y":0.81},
{"r":"H","w":"D","t":"K2","x":0.93,"y":1.72},{"r":"H","w":"D","t":"G","x":1.02,"y":1.38},{"r":"H","w":"D","t":"K","x":1.18,"y":0.66},{"r":"H","w":"D","t":"H","x":1.16,"y":0.58},{"r":"H","w":"D","t":"B2","x":1.18,"y":0.53},{"r":"H","w":"D","t":"K2","x":1.21,"y":0.5},{"r":"H","w":"D","t":"E","x":1.16,"y":0.43},{"r":"H","w":"D","t":"E","x":1.2,"y":0.38},{"r":"H","w":"D","t":"J","x":1.25,"y":0.32},{"r":"H","w":"D","t":"J","x":1.26,"y":0.12},{"r":"H","w":"D","t":"I2","x":0.33,"y":0.25},{"r":"H","w":"D","t":"K2","x":0.59,"y":0.32},{"r":"H","w":"D","t":"I2","x":0.03,"y":0.22},{"r":"H","w":"D","t":"K2","x":0.03,"y":0.17},{"r":"H","w":"D","t":"E2","x":0.57,"y":0.07},{"r":"H","w":"D","t":"H2","x":0.3,"y":0.05},{"r":"H","w":"D","t":"L","x":0.6,"y":0.0},{"r":"H","w":"D","t":"B","x":0.0,"y":0.0},{"r":"H","w":"D","t":"H","x":0.3,"y":0.0},{"r":"H","w":"D","t":"B","x":0.33,"y":0.02},{"r":"H","w":"D","t":"E","x":0.55,"y":0.02},

{"r":"L","w":"R","t":"A2","x":4.51,"y":2.2},{"r":"L","w":"R","t":"C2","x":4.54,"y":2.03},{"r":"L","w":"R","t":"D2","x":4.6,"y":1.91},{"r":"L","w":"R","t":"E2","x":4.67,"y":1.64},{"r":"L","w":"R","t":"C","x":4.67,"y":1.52},{"r":"L","w":"R","t":"B","x":4.67,"y":1.48},{"r":"L","w":"R","t":"B","x":4.72,"y":1.37},{"r":"L","w":"R","t":"D","x":4.74,"y":1.3},{"r":"L","w":"R","t":"F","x":4.84,"y":0.93},{"r":"L","w":"R","t":"B","x":4.88,"y":0.7},
{"r":"L","w":"R","t":"A2","x":2.16,"y":1.56},{"r":"L","w":"R","t":"C2","x":2.16,"y":1.48},{"r":"L","w":"R","t":"C","x":2.21,"y":1.35},{"r":"L","w":"R","t":"E","x":2.22,"y":1.17},{"r":"L","w":"R","t":"B2","x":2.26,"y":1.17},{"r":"L","w":"R","t":"B","x":2.27,"y":1.08},{"r":"L","w":"R","t":"D2","x":2.32,"y":0.88},{"r":"L","w":"R","t":"F","x":2.38,"y":0.69},{"r":"L","w":"R","t":"D","x":2.39,"y":0.6},
{"r":"L","w":"R","t":"C2","x":1.08,"y":0.75},{"r":"L","w":"R","t":"A2","x":1.11,"y":0.68},{"r":"L","w":"R","t":"B","x":0.46,"y":0.41},{"r":"L","w":"R","t":"B","x":1.16,"y":0.47},{"r":"L","w":"R","t":"E","x":1.16,"y":0.4},{"r":"L","w":"R","t":"E2","x":1.2,"y":0.27},{"r":"L","w":"R","t":"A2","x":1.22,"y":0.22},{"r":"L","w":"R","t":"C","x":0.52,"y":0.15},{"r":"L","w":"R","t":"A","x":0.55,"y":0.1},{"r":"L","w":"R","t":"E2","x":0.27,"y":0.04},{"r":"L","w":"R","t":"A","x":0.27,"y":0.0},{"r":"L","w":"R","t":"B","x":0.32,"y":0.0},{"r":"L","w":"R","t":"C","x":0.56,"y":0.01},{"r":"L","w":"R","t":"D","x":0.99,"y":0.0},{"r":"L","w":"R","t":"E2","x":0.0,"y":0.01},{"r":"L","w":"R","t":"C","x":0.02,"y":0.0},

{"r":"L","w":"D","t":"1","x":4.26,"y":3.16},{"r":"L","w":"D","t":"127 (2)","x":4.52,"y":2.3},{"r":"L","w":"D","t":"12 (2)","x":4.54,"y":2.3},{"r":"L","w":"D","t":"87","x":4.57,"y":2.12},{"r":"L","w":"D","t":"4","x":4.55,"y":1.99},{"r":"L","w":"D","t":"55","x":4.6,"y":1.94},{"r":"L","w":"D","t":"127","x":4.64,"y":1.74},{"r":"L","w":"D","t":"133","x":4.67,"y":1.65},{"r":"L","w":"D","t":"73","x":4.66,"y":1.58},{"r":"L","w":"D","t":"113","x":4.7,"y":1.41},{"r":"L","w":"D","t":"36 (2)","x":4.79,"y":1.03},{"r":"L","w":"D","t":"36","x":4.82,"y":0.9},{"r":"L","w":"D","t":"87 (3)","x":4.96,"y":0.4},
{"r":"L","w":"D","t":"12 (2)","x":2.04,"y":2.07},{"r":"L","w":"D","t":"127 (2)","x":2.2,"y":1.54},{"r":"L","w":"D","t":"12","x":2.2,"y":1.46},{"r":"L","w":"D","t":"87","x":2.24,"y":1.25},{"r":"L","w":"D","t":"132","x":2.29,"y":1.08},{"r":"L","w":"D","t":"55","x":2.31,"y":1.01},{"r":"L","w":"D","t":"36 (3)","x":2.27,"y":0.9},{"r":"L","w":"D","t":"73","x":2.33,"y":0.84},
{"r":"L","w":"D","t":"12 (2)","x":0.84,"y":1.02},{"r":"L","w":"D","t":"133","x":1.16,"y":0.56},{"r":"L","w":"D","t":"127","x":1.16,"y":0.5},{"r":"L","w":"D","t":"55","x":1.18,"y":0.39},{"r":"L","w":"D","t":"87 (3)","x":1.11,"y":0.34},{"r":"L","w":"D","t":"36 (2)","x":1.11,"y":0.27},{"r":"L","w":"D","t":"127 (2)","x":0.45,"y":0.46},{"r":"L","w":"D","t":"12 (2)","x":0.47,"y":0.39},{"r":"L","w":"D","t":"73","x":0.49,"y":0.29},{"r":"L","w":"D","t":"127 (2)","x":0.34,"y":0.13},{"r":"L","w":"D","t":"12 (2)","x":0.3,"y":0.05},{"r":"L","w":"D","t":"(3)","x":0.4,"y":0.1},{"r":"L","w":"D","t":"36","x":0.1,"y":0.0},{"r":"L","w":"D","t":"55","x":0.35,"y":-0.01},{"r":"L","w":"D","t":"133","x":0.5,"y":0.0},{"r":"L","w":"D","t":"87","x":-0.1,"y":-0.01},{"r":"L","w":"D","t":"1","x":-0.14,"y":-0.02},{"r":"L","w":"D","t":"(3)","x":0.0,"y":-0.17},{"r":"L","w":"D","t":"(3)","x":0.28,"y":-0.12}
]},
"facet": {
  "row": {"field": "r", "type": "nominal", "sort": ["H", "L"], "title": "Elevation",
    "header": {"labelExpr": "datum.value == 'H' ? 'High' : 'Low'", "labelAngle": -90, "labelOrient": "left", "titleOrient": "left", "titleAngle": -90,
      "labelFont": "Lato", "labelFontSize": 38, "labelColor": "black", "labelPadding": 35,
      "titleFont": "Lato", "titleFontSize": 48, "titleFontWeight": "normal", "titleColor": "black", "titlePadding": -47}},
  "column": {"field": "w", "type": "nominal", "sort": ["R", "D"], "title": "Watershed",
    "header": {"labelExpr": "datum.value == 'R' ? 'Reference' : 'Disturbed'",
      "labelFont": "Lato", "labelFontSize": 44, "labelColor": "black", "labelPadding": 31,
      "titleFont": "Lato", "titleFontSize": 45, "titleFontWeight": "normal", "titleColor": "black", "titlePadding": -11}}
},
"spacing": {"row": 33, "column": 44},
"spec": {
  "width": 547,
  "height": 518,
  "layer": [
    {"transform": [{"filter": "datum.c != null"}],
     "mark": {"type": "line", "interpolate": "monotone", "color": "black", "strokeWidth": 1, "clip": true},
     "encoding": {
       "x": {"field": "x", "type": "quantitative", "scale": {"domain": [0, 5], "nice": false},
             "axis": {"title": "Ceq (mmol L⁻¹)", "values": [0,1,2,3,4,5], "format": "d"}},
       "y": {"field": "y", "type": "quantitative", "scale": {"domain": [0, 3.5], "nice": false},
             "axis": {"title": "q (mmol Kg⁻¹ )", "values": [0,1,2,3], "format": "d"}},
       "detail": {"field": "c", "type": "nominal"},
       "order": {"field": "x", "type": "quantitative"}
     }},
    {"transform": [{"filter": "datum.t != null"}],
     "mark": {"type": "text", "font": "Liberation Sans", "fontSize": 12, "color": "black", "fill": "black", "align": "center", "baseline": "middle"},
     "encoding": {
       "x": {"field": "x", "type": "quantitative"},
       "y": {"field": "y", "type": "quantitative"},
       "text": {"field": "t", "type": "nominal"}
     }},
    {"transform": [{"filter": "datum.p == 1"}],
     "mark": {"type": "point", "filled": true, "color": "black", "size": 110, "opacity": 1},
     "encoding": {
       "x": {"field": "x", "type": "quantitative"},
       "y": {"field": "y", "type": "quantitative"}
     }}
  ]
},
"config": {
  "view": {"stroke": "#222", "strokeWidth": 1.3},
  "axis": {"grid": false, "domain": false, "tickColor": "black", "tickSize": 8, "labelColor": "black", "titleColor": "black",
           "labelFont": "Liberation Sans", "titleFont": "Liberation Sans", "titleFontWeight": "normal"},
  "axisX": {"labelFontSize": 16, "titleFontSize": 19, "labelPadding": 8, "titlePadding": 7},
  "axisY": {"labelFontSize": 13, "titleFontSize": 16, "labelPadding": 4, "titlePadding": 14}
}
}
